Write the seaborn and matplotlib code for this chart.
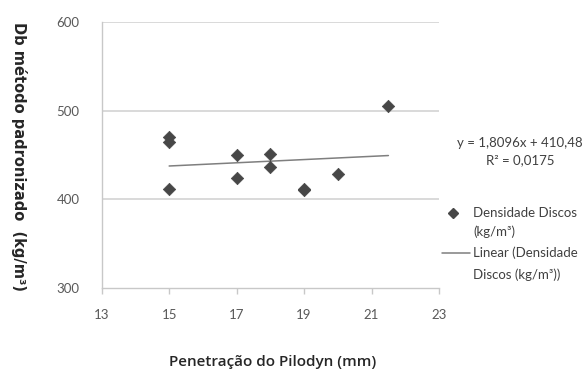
import numpy as np
import pandas as pd
import matplotlib
matplotlib.use("Agg")
import matplotlib.pyplot as plt
from matplotlib.lines import Line2D
import seaborn as sns

# Pilodyn penetration (mm) and standard-method basic density (kg/m³)
penetracao = [15, 15, 15, 17, 17, 18, 18, 19, 19, 20, 21.5]
densidade = [470, 465, 412, 450, 424, 451, 436, 411, 412, 429, 505]

# Linear trendline coefficients
slope = 1.8096
intercept = 410.48
r2 = 0.0175

x_ticks = [13, 15, 17, 19, 21, 23]
y_ticks = [300, 400, 500, 600]

W, H = 583, 369

sns.set_theme(style="white")
plt.rcParams["font.family"] = ["Lato", "DejaVu Sans"]

fig = plt.figure(figsize=(W / 100, H / 100), dpi=100)
ax = fig.add_axes([101.7 / W, 1 - 288.3 / H, (439 - 101.7) / W, (288.3 - 21.7) / H])

df = pd.DataFrame({"x": penetracao, "y": densidade})
sns.scatterplot(data=df, x="x", y="y", marker="D", s=40, color="#474747",
                edgecolor="#474747", linewidth=0.5, ax=ax, zorder=3)

xr = np.array([min(penetracao), max(penetracao)])
trend = pd.DataFrame({"x": xr, "y": slope * xr + intercept})
sns.lineplot(data=trend, x="x", y="y", color="#7f7f7f", linewidth=1.1, ax=ax, zorder=2)

ax.set_xlim(13, 23)
ax.set_ylim(300, 600)
ax.set_xticks(x_ticks)
ax.set_yticks(y_ticks)
ax.set_xticklabels([str(t) for t in x_ticks])
ax.set_yticklabels([str(t) for t in y_ticks])

for y in y_ticks[1:]:
    ax.axhline(y, color="#d0d0d0", linewidth=1.1, zorder=1)

for side in ["top", "right"]:
    ax.spines[side].set_visible(False)
for side in ["left", "bottom"]:
    ax.spines[side].set_color("#c8c8c8")
    ax.spines[side].set_linewidth(1.0)

ax.tick_params(axis="x", which="both", bottom=True, direction="out", length=4,
               width=1.0, color="#c8c8c8", labelsize=9.5, labelcolor="#595959", pad=11)
ax.tick_params(axis="y", which="both", left=False, labelsize=9.5,
               labelcolor="#595959", pad=10)

ax.set_xlabel("")
ax.set_ylabel("")

fig.text(273 / W, 1 - 362 / H, "Penetração do Pilodyn (mm)", ha="center", va="center",
         fontsize=11, family=["Open Sans", "DejaVu Sans"], fontweight="semibold",
         color="#262626")
fig.text(19 / W, 1 - 156 / H, "Db método padronizado  (kg/m³)", ha="center", va="center",
         rotation=-90, fontsize=10.5, family=["DejaVu Sans"],
         fontweight="bold", color="#262626")

txt_color = "#404040"
fig.text(520 / W, 1 - 143 / H, f"y = {slope:.4f}x + {intercept:.2f}".replace(".", ","),
         ha="center", va="center", fontsize=9.5, color=txt_color)
fig.text(520 / W, 1 - 160 / H, f"R² = {r2:.4f}".replace(".", ","),
         ha="center", va="center", fontsize=9.5, color=txt_color)

# Legend, drawn by hand so each key sits beside the first line of its label
fig.add_artist(Line2D([453 / W], [1 - 213 / H], marker="D", linestyle="none",
                      color="#474747", markersize=4.8, transform=fig.transFigure))
fig.add_artist(Line2D([442 / W, 470 / W], [1 - 253 / H, 1 - 253 / H],
                      color="#7f7f7f", linewidth=1.1, transform=fig.transFigure))
legend_lines = [("Densidade Discos", 213), ("(kg/m³)", 232),
                ("Linear (Densidade", 253), ("Discos (kg/m³))", 275)]
for s, ypix in legend_lines:
    fig.text(473 / W, 1 - ypix / H, s, ha="left", va="center",
             fontsize=9.5, color=txt_color)

fig.savefig("out.png", dpi=100)
